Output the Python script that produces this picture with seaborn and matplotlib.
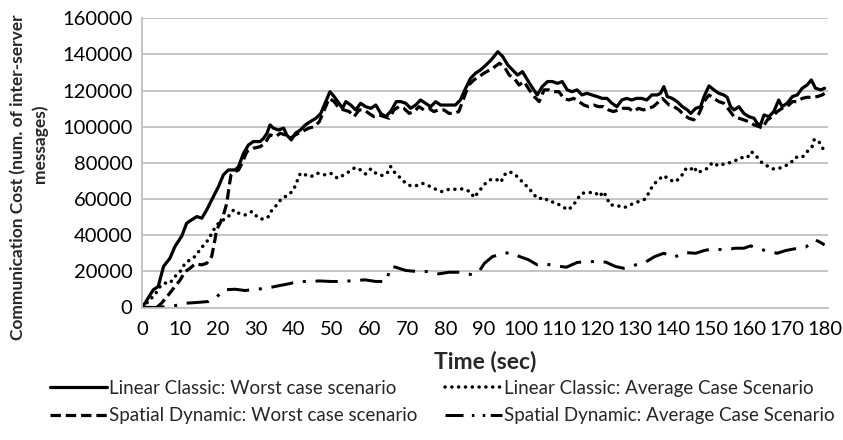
import matplotlib
matplotlib.use("Agg")
import matplotlib.pyplot as plt
from matplotlib.lines import Line2D
import pandas as pd
import seaborn as sns

# ---------------- data ----------------
t_lc_worst = [0, 2.9, 4.2, 5.6, 7.3, 8.6, 10.4, 11.7, 13.0, 14.4,
              15.7, 17.0, 18.3, 20.1, 21.4, 22.7, 24.5, 25.4, 26.7, 28.0,
              29.3, 31.1, 32.0, 32.9, 33.7, 34.6, 35.9, 37.3, 38.1, 39.3,
              40.4, 41.7, 43.0, 44.3, 45.8, 47.1, 48.4, 49.5, 50.6, 51.9,
              52.8, 53.7, 55.0, 56.3, 57.6, 58.9, 60.3, 61.6, 62.9, 64.2,
              65.5, 67.0, 68.2, 69.5, 70.8, 72.1, 73.4, 74.7, 76.1, 77.4,
              78.7, 80.0, 81.3, 82.6, 83.9, 85.3, 86.6, 87.9, 89.2, 90.6,
              92.0, 93.8, 95.1, 96.4, 97.7, 99.0, 100.3, 101.6, 103.0, 104.2,
              105.5, 106.9, 108.2, 109.5, 110.8, 112.1, 113.4, 114.7, 116.0, 117.3,
              118.6, 120.0, 121.3, 122.6, 123.9, 125.2, 126.5, 127.8, 129.1, 130.4,
              131.7, 133.1, 134.4, 135.9, 136.7, 137.6, 138.5, 139.8, 141.1, 142.5,
              143.8, 144.7, 146.0, 147.3, 148.2, 149.5, 150.8, 152.1, 153.4, 154.3,
              155.2, 156.1, 157.4, 158.7, 160.0, 161.4, 162.2, 163.1, 164.0, 165.3,
              166.6, 167.9, 168.8, 170.1, 171.5, 172.8, 174.1, 175.4, 176.5, 177.6,
              179.0, 180.0]
v_lc_worst = [0, 9800, 11600, 22700, 27300, 33700, 39500, 46600, 48500, 50300,
              49400, 54000, 59500, 66900, 73400, 76100, 76100, 78000, 85300, 89900,
              91800, 91800, 93600, 96400, 101000, 99200, 98200, 99200, 95500, 92700,
              96400, 98200, 101000, 102800, 104700, 107400, 113900, 119400, 116700, 113000,
              110200, 113900, 112000, 109300, 113000, 111100, 110200, 112000, 107400, 105600,
              108400, 113900, 113900, 113000, 110200, 112000, 114800, 113000, 111100, 113900,
              112000, 112000, 112000, 112000, 114800, 121300, 126800, 129600, 131400, 134000,
              136900, 141500, 138800, 134200, 131400, 128600, 130500, 125900, 121300, 117600,
              122200, 125000, 125000, 124000, 125000, 120400, 119400, 120400, 117600, 118500,
              117600, 116700, 115700, 115700, 113000, 111100, 114800, 115700, 114800, 115700,
              115700, 114800, 117600, 117600, 118500, 122200, 116700, 115700, 113900, 111100,
              109300, 107400, 110200, 111100, 116700, 122600, 120400, 118500, 117600, 116300,
              111100, 109300, 111100, 107400, 105600, 104700, 101900, 101000, 106500, 105600,
              108400, 114800, 111100, 113000, 116700, 117600, 121300, 123100, 125900, 121300,
              120400, 121300]

t_sd_worst = [0, 3.8, 5.1, 6.9, 8.6, 10.0, 11.3, 12.6, 13.9, 15.7,
              17.0, 18.3, 19.0, 19.6, 20.5, 21.4, 22.3, 22.9, 23.4, 24.5,
              25.4, 26.3, 27.6, 29.3, 31.1, 32.4, 33.7, 35.1, 36.4, 37.7,
              39.0, 40.4, 42.1, 43.9,
              45.4, 46.7, 48.0, 49.3, 50.6, 51.9, 53.2, 54.6, 55.9, 57.2,
              58.5, 59.8, 61.1, 62.5, 63.8, 65.1, 66.4, 67.7, 69.0, 70.4,
              71.7, 73.0, 74.3, 75.6, 76.9, 78.2, 79.6, 80.9, 82.2, 83.5,
              84.8, 86.1, 87.5, 88.8, 90.1,
              92.4, 94.2, 95.5, 96.8, 98.1, 99.4, 100.7, 102.1, 103.4, 104.7,
              106.0, 107.3, 108.6, 109.9, 111.2, 112.5, 113.8, 115.2, 116.5, 117.8,
              119.1, 120.4, 121.7, 123.0, 124.3, 125.6, 126.9, 128.3, 129.6, 130.9,
              132.2, 133.5, 134.8,
              137.2, 139.0, 140.3, 141.6, 142.9, 144.2, 145.5, 146.9, 148.2, 149.5,
              150.8, 152.1, 153.4, 154.8, 156.1, 157.4, 158.7, 160.0, 161.4, 162.7,
              163.6, 164.9, 166.2, 167.5, 168.8, 170.1, 171.5, 172.8, 174.1, 175.4,
              176.7, 178.1, 179.4, 180.0]
v_sd_worst = [0, 0, 2400, 7000, 11600, 15300, 19900, 21700, 24100, 23600,
              24500, 28200, 35600, 42900, 46600, 51200, 57700, 66900, 73400, 75200,
              76100, 79800, 86300, 88100, 89000, 90900, 95500, 94500, 96400, 95500,
              93600, 95500, 97300, 99200,
              100100, 102800, 109300, 115700, 113900, 110200, 109300, 108400, 105600, 109300,
              109300, 107400, 105600, 106500, 105600, 104700, 109300, 111100, 110200, 107400,
              108400, 111100, 109300, 110200, 108400, 109300, 109300, 107400, 107400, 108400,
              115700, 123100, 125900, 127700, 129600,
              132300, 135100, 133200, 128600, 126800, 123100, 125000, 120400, 116700, 113900,
              120400, 120400, 119400, 119400, 115700, 114800, 115700, 113900, 112000, 111100,
              112000, 111100, 111100, 109300, 108400, 109300, 110200, 110200, 108400, 110200,
              109300, 110200, 111100,
              115700, 112000, 111100, 109300, 106500, 104700, 103800, 107400, 113900, 117600,
              115700, 113900, 113000, 109300, 105600, 104700, 103800, 102800, 101000, 100100,
              99200, 103800, 105600, 108400, 110200, 111100, 113900, 113900, 115700, 116300,
              116300, 116700, 117600, 118500]

t_lc_avg = [0, 3.3, 4.7, 6.0, 7.3, 8.6, 10.0, 11.3, 12.6, 13.9,
            15.2, 16.6, 17.4, 18.8, 20.1, 21.4, 22.7, 24.1, 25.4, 27.1,
            28.9, 30.7, 32.0, 33.3, 34.2, 35.5, 36.8, 38.6, 39.9, 40.8,
            41.7, 43.0,
            44.5, 46.2, 48.0, 49.7, 51.5, 53.2, 54.6, 56.1, 57.6, 58.9,
            60.3, 61.6, 63.3, 64.6, 65.5, 66.7, 68.2, 69.5, 70.8, 72.1,
            73.9, 75.6, 77.4, 79.1, 80.9, 82.6, 84.4, 86.6, 87.5, 88.8,
            90.1,
            91.6, 93.3, 94.6, 95.5, 96.8, 98.1, 99.4, 100.7, 102.1, 102.9,
            104.5, 106.0, 107.3, 109.0, 110.8, 112.4, 113.8, 114.7, 116.0, 117.8,
            119.5, 120.6, 121.7, 122.6, 123.4, 125.2, 127.2, 129.1, 130.9, 132.6,
            133.7,
            134.6, 136.1, 137.6, 139.1, 140.7, 142.3, 143.3, 144.4, 145.5, 146.4,
            147.7, 149.1, 150.4, 152.1, 153.9, 155.2, 156.5, 157.8, 159.6, 160.7,
            161.9, 163.6, 164.9, 166.4, 168.0, 169.3, 171.0, 172.3, 174.1, 175.4,
            176.7, 177.3, 178.5, 179.5, 180.0]
v_lc_avg = [0, 7000, 11600, 13500, 13500, 17100, 19900, 24500, 26400, 28200,
            31900, 35600, 37400, 42900, 46600, 48500, 50300, 54000, 52200, 51200,
            53100, 49400, 48800, 50300, 54000, 56800, 60400, 62300, 65100, 69700,
            74300, 73400,
            72400, 74300, 73400, 74300, 71500, 73400, 75200, 77400, 76100, 73900,
            76700, 74300, 73000, 74300, 78000, 74300, 71500, 68700, 67300, 67300,
            68700, 67300, 65400, 64100, 65400, 65400, 65600, 64100, 60800, 64100,
            67800,
            70600, 71000, 69300, 73400, 75200, 73900, 71500, 68400, 66000, 63200,
            60100, 60800, 58600, 58100, 55800, 54000, 56800, 59900, 63200, 63600,
            63600, 61400, 64100, 60400, 56800, 56400, 55300, 57100, 58600, 59900,
            63600,
            67300, 70600, 73000, 70600, 69500, 73000, 76500, 75700, 78000, 74600,
            75600, 77000, 80200, 78300, 79800, 80200, 81300, 82900, 82900, 86200,
            83900, 79800, 78300, 76700, 77000, 78000, 79800, 83100, 83100, 86200,
            89000, 93100, 91800, 88100, 86500]

t_sd_avg = [0, 4.0, 8.8, 11.7, 14.5, 17.4, 19.6, 21.4, 24.5, 27.1,
            30.2, 32.9, 35.9, 38.6, 41.2, 43.9, 46.7, 49.7, 52.8, 55.9,
            58.8, 61.6, 64.4, 65.5, 66.8, 69.5, 72.5, 75.6, 78.2, 80.9,
            83.9, 87.0, 88.8, 90.3, 92.4, 95.1, 96.8, 99.0, 101.9, 104.2,
            106.4, 109.0, 111.9, 114.7, 116.9, 119.5, 122.3, 124.8, 127.0, 129.1,
            132.6, 135.2, 137.6, 140.3, 143.1, 146.0, 148.2, 150.4, 153.6, 156.5,
            158.7, 160.5, 161.4, 164.3, 167.5, 169.7, 171.9, 175.0, 177.6, 179.0,
            180.0]
v_sd_avg = [0, 0, 1100, 2400, 2800, 3300, 5700, 9800, 10100, 9400,
            10100, 10700, 12000, 13100, 14400, 14400, 14700, 14400, 14400, 14900,
            15300, 14400, 14400, 22700, 22300, 20500, 19900, 19900, 18600, 19500,
            19500, 18100, 19900, 24500, 28200, 29700, 30400, 28600, 26400, 23600,
            24100, 23000, 22300, 24900, 25400, 25400, 25100, 22700, 21700, 23000,
            24900, 28200, 30000, 27800, 30400, 30000, 31500, 32400, 31900, 32800,
            32800, 34100, 33400, 31500, 30000, 31500, 32400, 33400, 37400, 35900,
            34600]

series_labels = ["Linear Classic: Worst case scenario",
                 "Spatial Dynamic: Worst case scenario",
                 "Linear Classic: Average Case Scenario",
                 "Spatial Dynamic: Average Case Scenario"]
x_ticks = list(range(0, 181, 10))
y_ticks = list(range(0, 160001, 20000))

# ---------------- style ----------------
sns.set_theme(style="white")
plt.rcParams['font.family'] = ['Lato', 'DejaVu Sans']
plt.rcParams['lines.scale_dashes'] = False

W, H = 843, 440
fig = plt.figure(figsize=(W / 100, H / 100), dpi=100)
ax = fig.add_axes([142.3 / W, 1 - 307.5 / H, (828 - 142.3) / W, (307.5 - 18.3) / H])

px = 0.72  # points per pixel
styles = [
    dict(linestyle='-', linewidth=3.2 * px),
    dict(linestyle=(0, (7.5, 3.5)), linewidth=3.2 * px),
    dict(linestyle=(0, (0.1, 4.8)), linewidth=3.5 * px, dash_capstyle='round'),
    dict(linestyle=(0, (16, 7, 2.2, 7)), linewidth=3.0 * px),
]
data = [(t_lc_worst, v_lc_worst), (t_sd_worst, v_sd_worst),
        (t_lc_avg, v_lc_avg), (t_sd_avg, v_sd_avg)]

for (tt, vv), st in zip(data, styles):
    df = pd.DataFrame({"Time": tt, "Cost": vv})
    sns.lineplot(data=df, x="Time", y="Cost", ax=ax, color="black",
                 estimator=None, legend=False, **st)

ax.set_xlim(0, 180.9)
ax.set_ylim(0, 160000)
ax.set_xticks(x_ticks)
ax.set_xticklabels([str(v) for v in x_ticks])
ax.set_yticks(y_ticks)
ax.set_yticklabels([str(v) for v in y_ticks])
ax.grid(False)
ax.yaxis.grid(True, color="#bfbfbf", linewidth=1.3)
ax.set_axisbelow(True)
for s in ["top", "right"]:
    ax.spines[s].set_visible(False)
for s in ["left", "bottom"]:
    ax.spines[s].set_color("#bfbfbf")
    ax.spines[s].set_linewidth(1.3)
ax.tick_params(axis="both", which="major", direction="out", length=5 * px,
               width=1.0, color="#a6a6a6", labelsize=14.5, labelcolor="black")
ax.tick_params(axis="x", pad=6)
ax.tick_params(axis="y", pad=3.5)
ax.set_xlabel("")
ax.set_ylabel("")

fig.text(485 / W, 1 - 361 / H, "Time (sec)", ha="center", va="center",
         fontsize=16.5, fontweight="bold")
fig.text(18 / W, 1 - 177 / H, "Communication Cost (num. of inter-server",
         ha="center", va="center", rotation=90, fontsize=12.5, fontweight="bold")
fig.text(40 / W, 1 - 144 / H, "messages)",
         ha="center", va="center", rotation=90, fontsize=12.5, fontweight="bold")

handles = [Line2D([], [], color="black", **st) for st in styles]
handles[3] = Line2D([], [], color="black", linewidth=3.0 * px,
                    linestyle=(0, (13, 6, 1.8, 6, 1.8, 4)))
fs = 13.5
leg_kw = dict(frameon=False, borderpad=0, borderaxespad=0, fontsize=fs,
              handlelength=57 * px / fs, handletextpad=0.1, labelspacing=0.55,
              loc="upper left")
fig.legend(handles[:2], series_labels[:2], bbox_to_anchor=(50 / W, 1 - 380 / H), **leg_kw)
fig.legend(handles[2:], series_labels[2:], bbox_to_anchor=(445 / W, 1 - 380 / H), **leg_kw)

fig.savefig("out.png", dpi=100)
